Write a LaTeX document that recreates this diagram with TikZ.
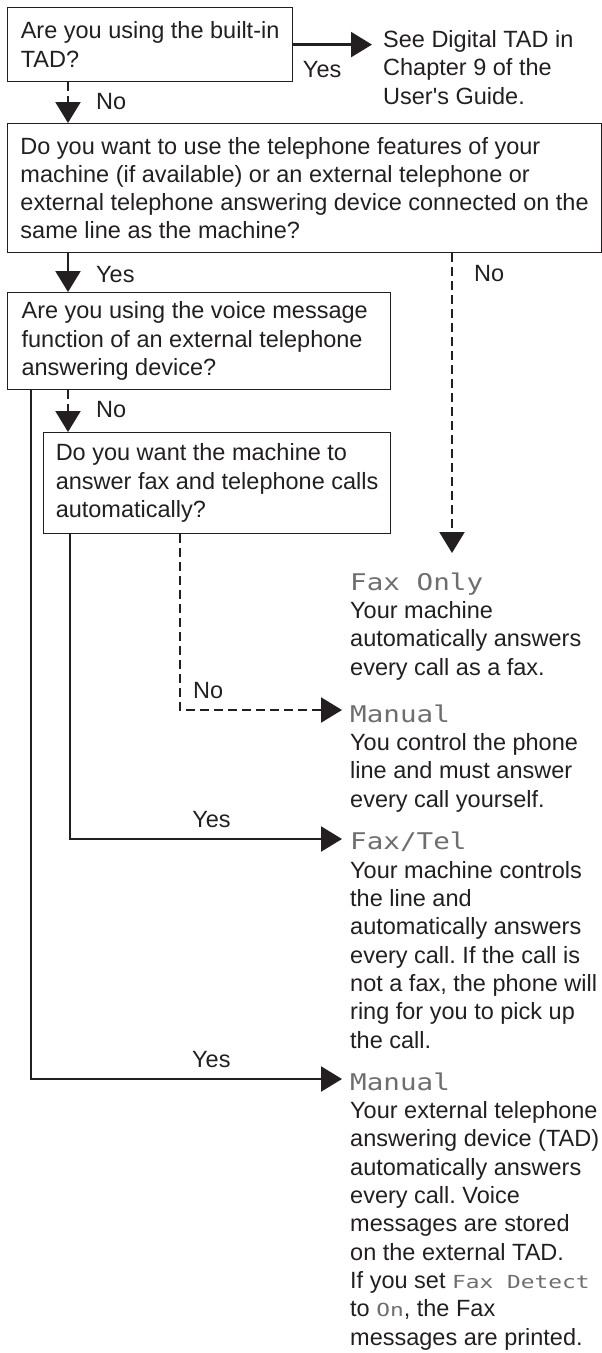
\documentclass[tikz,border=0pt]{standalone}
\usepackage{fontspec}
\usepackage{graphicx}
\setmainfont{Liberation Sans}
\newfontfamily\lcdface{DejaVu Sans Mono}
\usetikzlibrary{arrows.meta,positioning}
\definecolor{inkBlack}{HTML}{231F20}
\definecolor{lcdGray}{HTML}{6E6E6E}
\newcommand{\qfont}{\fontsize{23.5}{28.3}\selectfont\frenchspacing}
\newcommand{\lcd}[1]{\scalebox{1.2}[1]{\fontsize{23}{28.3}\selectfont\lcdface\color{lcdGray}#1}}
\newcommand{\lcdsm}[1]{\scalebox{1.27}[1]{\fontsize{18}{28.3}\selectfont\lcdface\color{lcdGray}#1}}
\tikzset{
  qbox/.style={draw=inkBlack, line width=1.2pt, align=left, anchor=north west,
        inner sep=0pt, font=\qfont, text=inkBlack},
  outcome/.style={align=left, anchor=base west, inner sep=0pt, font=\qfont,
        text=inkBlack},
  arr/.style={-{Triangle[length=21pt, width=25pt]}, line width=2.3pt, draw=inkBlack},
  darr/.style={-{Triangle[length=21pt, width=25pt]}, line width=2.2pt, draw=inkBlack,
        dash pattern=on 9pt off 5pt},
  lbl/.style={font=\qfont, text=inkBlack, inner sep=0pt}
}

\begin{document}
\begin{tikzpicture}[x=1pt, y=1pt]
\useasboundingbox (0,0) rectangle (602,-1353);

% questions
\node[qbox, minimum width=285pt, minimum height=74pt] (tad) at (7,-7)
  {Are you using the built-in\\TAD?};
\node[qbox, minimum width=594pt, minimum height=129pt] (feat) at (7,-123)
  {Do you want to use the telephone features of your\\machine (if available) or an external telephone or\\external telephone answering device connected on the\\same line as the machine?};
\node[qbox, minimum width=383pt, minimum height=97pt, text width=355pt,
      align=flush left] (voice) at (7,-292)
  {Are you using the voice message\\function of an external telephone\\answering device?};
\node[qbox, minimum width=347pt, minimum height=101pt] (auto) at (43,-432)
  {Do you want the machine to\\answer fax and telephone calls\\automatically?};

% answers (placed on the baseline of their last line)
\node[outcome] (see) at (383,-104) {See Digital TAD in\\Chapter 9 of the\\User\textquotesingle s Guide.};
\node[outcome] (faxonly) at (350,-675)
  {\lcd{Fax Only}\\Your machine\\automatically answers\\every call as a fax.};
\node[outcome] (manual) at (350,-807)
  {\lcd{Manual}\\You control the phone\\line and must answer\\every call yourself.};
\node[outcome] (faxtel) at (350,-1048)
  {\lcd{Fax/Tel}\\Your machine controls\\the line and\\automatically answers\\every call. If the call is\\not a fax, the phone will\\ring for you to pick up\\the call.};
\node[outcome] (tadman) at (350,-1345)
  {\lcd{Manual}\\Your external telephone\\answering device (TAD)\\automatically answers\\every call. Voice\\messages are stored\\on the external TAD.\\If you set \lcdsm{Fax Detect}\\to \lcdsm{On}, the Fax\\messages are printed.};

\coordinate (faxin) at (452,-553);
\coordinate (in1) at (342,-710);
\coordinate (in2) at (342,-839);
\coordinate (in3) at (342,-1079);

% connectors
\draw[arr] (tad.east) -- ([xshift=-11pt]see.west |- tad.east)
  node[lbl, pos=0.625, anchor=base east, yshift=-33pt] {Yes};
\draw[darr] ([xshift=61pt]tad.south west) -- ([xshift=61pt]tad.south west |- feat.north)
  node[lbl, pos=0.66, anchor=base west, xshift=27pt] {No};
\draw[arr] ([xshift=61pt]feat.south west) -- ([xshift=61pt]feat.south west |- voice.north)
  node[lbl, pos=0.75, anchor=base west, xshift=27pt] {Yes};
\draw[darr] (feat.south -| faxin) -- (faxin)
  node[lbl, pos=0.093, anchor=base west, xshift=21pt] {No};
\draw[darr] ([xshift=61pt]voice.south west) -- ([xshift=61pt]voice.south west |- auto.north)
  node[lbl, pos=0.65, anchor=base west, xshift=27pt] {No};
\draw[darr] ([xshift=137pt]auto.south west) |- (in1)
  node[lbl, pos=0.5, anchor=base west, xshift=12pt, yshift=12pt] {No};
\draw[arr] ([xshift=27pt]auto.south west) |- (in2)
  node[lbl, pos=0.76, anchor=base, yshift=12pt] {Yes};
\draw[arr] ([xshift=24pt]voice.south west) |- (in3)
  node[lbl, pos=0.79, anchor=base, yshift=12pt] {Yes};
\end{tikzpicture}
\end{document}
